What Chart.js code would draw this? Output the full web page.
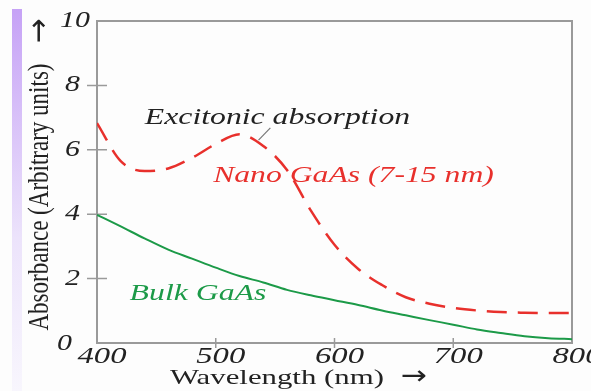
<!DOCTYPE html>
<html>
<head>
<meta charset="utf-8">
<script src="https://cdn.jsdelivr.net/npm/chart.js@4"></script>
<style>
  html, body { margin: 0; padding: 0; background: #fdfdfd; }
  #wrap { position: relative; width: 591px; height: 391px; }
  #strip { position: absolute; left: 12px; top: 9px; width: 10px; height: 382px;
           background: linear-gradient(#c6a2f6, #ece3fb 60%, #f8f6fd); }
  canvas { position: absolute; left: 0; top: 0; }
</style>
</head>
<body>
<div id="wrap">
  <div id="strip"></div>
  <canvas id="chart" width="591" height="391"></canvas>
</div>
<script>
// wavelength samples (nm)
const wavelengths = [400, 420, 440, 460, 480, 500, 520, 540, 560, 580, 600, 620, 640, 660, 680, 700, 720, 740, 760, 780, 800];
// nano GaAs (7-15 nm), dashed red
const nanoValues = [6.83, 5.65, 5.34, 5.42, 5.75, 6.18, 6.48, 6.12, 5.37, 4.12, 3.05, 2.3, 1.8, 1.42, 1.22, 1.09, 1.01, 0.96, 0.94, 0.93, 0.93];
// bulk GaAs, solid green
const bulkValues = [3.98, 3.62, 3.25, 2.9, 2.62, 2.34, 2.08, 1.88, 1.65, 1.48, 1.33, 1.18, 1.01, 0.86, 0.71, 0.57, 0.42, 0.31, 0.21, 0.15, 0.12];
const xTicks = [400, 500, 600, 700, 800];
const yTicks = [0, 2, 4, 6, 8, 10];

const serif = '"Liberation Serif", "DejaVu Serif", serif';

// the source picture is stretched sideways, so text gets a horizontal scale
function wideText(ctx, str, px, py, sx, align) {
  ctx.save();
  ctx.translate(px, py);
  ctx.scale(sx, 1);
  ctx.textAlign = align || 'center';
  ctx.fillText(str, 0, 0);
  ctx.restore();
}

const decor = {
  id: 'decor',
  beforeDatasetsDraw(chart) {
    const { ctx, chartArea: a, scales: { x, y } } = chart;
    ctx.save();
    ctx.strokeStyle = '#9a9a9a';
    ctx.lineWidth = 2;
    ctx.strokeRect(a.left, a.top, a.right - a.left, a.bottom - a.top);
    ctx.lineWidth = 1.5;
    ctx.beginPath();
    [2, 4, 6, 8].forEach(v => {
      const py = y.getPixelForValue(v);
      ctx.moveTo(a.left - 10, py); ctx.lineTo(a.left + 10, py);
    });
    [500, 600, 700].forEach(v => {
      const px = x.getPixelForValue(v);
      ctx.moveTo(px, a.bottom + 5); ctx.lineTo(px, a.bottom - 5);
    });
    ctx.stroke();

    // tick labels
    ctx.fillStyle = '#222';
    ctx.textBaseline = 'middle';
    ctx.font = 'italic 23px ' + serif;
    yTicks.forEach(v => {
      const shift = v === 10 ? 10 : v === 0 ? -8 : 0;
      wideText(ctx, String(v), a.left - 17 + shift, y.getPixelForValue(v) + (v === 0 ? 1 : 0), 1.3, 'right');
    });
    xTicks.forEach(v => {
      wideText(ctx, String(v), x.getPixelForValue(v) + 5, a.bottom + 14, 1.42, 'center');
    });
    ctx.restore();
  },
  afterDatasetsDraw(chart) {
    const { ctx, scales: { x, y } } = chart;
    ctx.save();
    // leader line for the exciton peak
    ctx.strokeStyle = '#777';
    ctx.lineWidth = 1.2;
    ctx.beginPath();
    ctx.moveTo(x.getPixelForValue(546), y.getPixelForValue(6.68));
    ctx.lineTo(x.getPixelForValue(536), y.getPixelForValue(6.3));
    ctx.stroke();

    ctx.textBaseline = 'middle';
    ctx.font = 'italic 23px ' + serif;
    ctx.fillStyle = '#222';
    wideText(ctx, 'Excitonic absorption', x.getPixelForValue(552), y.getPixelForValue(6.98), 1.38);
    ctx.font = 'italic 24px ' + serif;
    ctx.fillStyle = '#e8302c';
    wideText(ctx, 'Nano GaAs (7-15 nm)', x.getPixelForValue(616), y.getPixelForValue(5.2), 1.32);
    ctx.font = 'italic 23px ' + serif;
    ctx.fillStyle = '#1c9a48';
    wideText(ctx, 'Bulk GaAs', x.getPixelForValue(485), y.getPixelForValue(1.52), 1.38);

    // axis titles
    ctx.fillStyle = '#222';
    ctx.textBaseline = 'alphabetic';
    ctx.font = '22px ' + serif;
    wideText(ctx, 'Wavelength (nm)', 170, 384, 1.4, 'left');
    ctx.font = '26px "DejaVu Sans", sans-serif';
    ctx.textBaseline = 'middle';
    wideText(ctx, '\u2192', 414, 377, 1.2, 'center');

    ctx.translate(40, 0);
    ctx.rotate(-Math.PI / 2);
    ctx.textAlign = 'center';
    ctx.save();
    ctx.translate(-197, 0);
    ctx.scale(1, 1.3);
    ctx.font = '23px ' + serif;
    ctx.fillText('Absorbance (Arbitrary units)', 0, 0);
    ctx.restore();
    ctx.font = '30px "DejaVu Sans", sans-serif';
    ctx.fillText('\u2192', -31, 0);
    ctx.restore();
  }
};

new Chart(document.getElementById('chart').getContext('2d'), {
  type: 'line',
  data: {
    datasets: [{
      label: 'Nano GaAs (7-15 nm)',
      data: wavelengths.map((w, i) => ({ x: w, y: nanoValues[i] })),
      borderColor: '#e8302c',
      borderWidth: 2.5,
      borderDash: [20, 11],
      pointRadius: 0,
      cubicInterpolationMode: 'monotone',
      fill: false
    }, {
      label: 'Bulk GaAs',
      data: wavelengths.map((w, i) => ({ x: w, y: bulkValues[i] })),
      borderColor: '#1c9a48',
      borderWidth: 2,
      pointRadius: 0,
      cubicInterpolationMode: 'monotone',
      fill: false
    }]
  },
  options: {
    responsive: false,
    animation: false,
    layout: { padding: { left: 0, right: 19, top: 21, bottom: 0 } },
    scales: {
      x: {
        type: 'linear', min: 400, max: 800,
        afterBuildTicks: s => { s.ticks = xTicks.map(v => ({ value: v })); },
        afterFit: s => { s.height = 48; },
        grid: { display: false },
        border: { display: false },
        ticks: { display: false }
      },
      y: {
        min: 0, max: 10,
        afterBuildTicks: s => { s.ticks = yTicks.map(v => ({ value: v })); },
        afterFit: s => { s.width = 97; },
        grid: { display: false },
        border: { display: false },
        ticks: { display: false }
      }
    },
    plugins: {
      legend: { display: false },
      tooltip: { enabled: false }
    }
  },
  plugins: [decor]
});
</script>
</body>
</html>
